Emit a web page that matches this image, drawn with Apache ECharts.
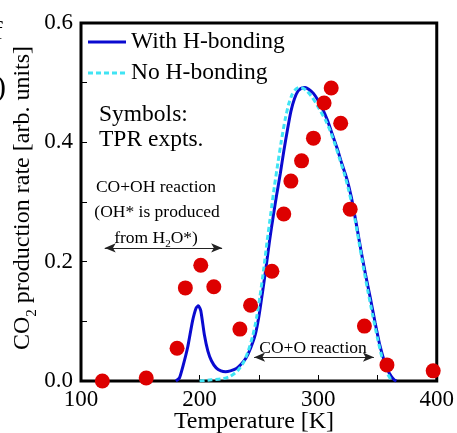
<!DOCTYPE html>
<html>
<head>
<meta charset="utf-8">
<script src="https://cdn.jsdelivr.net/npm/echarts@6/dist/echarts.min.js"></script>
<style>
html,body{margin:0;padding:0;background:#fff;}
#chart{width:457px;height:433px;}
</style>
</head>
<body>
<div id="chart"></div>
<script>
// ---- data ----
const withT    = [180,183,186,190,194,197,199,201,204,207,210,214,218,222,226,231,235,239,243,247,250,253,256,259,262,265,268,271,274,277,280,283,286,289,292,296,300,304,308,312,316,320,324,328,332,336,340,344,348,352,356,360,364,366];
const withRate = [0,0.005,0.025,0.057,0.1,0.122,0.126,0.118,0.078,0.05,0.034,0.022,0.017,0.0155,0.017,0.021,0.028,0.038,0.055,0.078,0.108,0.148,0.19,0.235,0.275,0.312,0.347,0.385,0.42,0.452,0.473,0.486,0.491,0.492,0.489,0.482,0.47,0.455,0.436,0.413,0.39,0.364,0.34,0.308,0.265,0.22,0.178,0.139,0.098,0.06,0.032,0.013,0.002,0];
const noT      = [200,210,220,226,232,237,241,245,248,251,254,257,260,263,266,269,272,275,278,281,284,287,290,294,298,302,306,310,314,318,322,326,330,334,338,342,346,350,354,358,362];
const noRate   = [0,0.002,0.004,0.008,0.017,0.031,0.05,0.077,0.105,0.143,0.186,0.235,0.28,0.325,0.365,0.403,0.437,0.463,0.48,0.489,0.492,0.491,0.487,0.478,0.466,0.452,0.438,0.42,0.398,0.373,0.348,0.318,0.282,0.238,0.192,0.15,0.11,0.072,0.038,0.014,0];
const exptT    = [118,155,181,188,201,212,234,243,261,271,277,286,296,305,311,319,327,339,358,397];
const exptRate = [0.0,0.005,0.055,0.156,0.194,0.158,0.087,0.127,0.184,0.28,0.335,0.369,0.407,0.466,0.491,0.432,0.288,0.092,0.027,0.017];
const xTicks   = [100,200,300,400];
const yTicks   = [0.0,0.2,0.4,0.6];
const ohArrow  = [[120,0.223],[219,0.223]];
const oArrow   = [[246,0.040],[347,0.040]];

const zip = (a,b)=>a.map((v,i)=>[v,b[i]]);
const SERIF = '"Liberation Serif","Times New Roman",serif';
const solidIcon  = 'path://M0,0H38V3H0Z';
const dashedIcon = 'path://M0,0H5V3H0Z M8,0H13V3H8Z M16,0H21V3H16Z M24,0H29V3H24Z M32,0H37V3H32Z M38,0H38.01V3H38Z';

const chart = echarts.init(document.getElementById('chart'));
chart.setOption({
  animation:false,
  backgroundColor:'#fff',
  textStyle:{fontFamily:SERIF},
  grid:{left:81,right:19,top:23,bottom:52,show:true,borderColor:'#000',borderWidth:3,backgroundColor:'transparent'},
  legend:{
    data:[{name:'With H-bonding',icon:solidIcon},{name:'No H-bonding',icon:dashedIcon}],
    orient:'vertical',left:88,top:30,padding:0,itemWidth:38,itemHeight:3,itemGap:7,
    textStyle:{fontFamily:SERIF,fontSize:23.5,color:'#000',lineHeight:23},
    selectedMode:false
  },
  xAxis:{
    type:'value',min:xTicks[0],max:xTicks[xTicks.length-1],interval:100,
    axisLine:{show:false},
    axisTick:{show:true,inside:true,length:6,lineStyle:{color:'#000',width:1}},
    minorTick:{show:true,splitNumber:2,length:6,lineStyle:{color:'#000',width:1}},
    splitLine:{show:false},
    axisLabel:{fontFamily:SERIF,fontSize:23,color:'#000',margin:7}
  },
  yAxis:{
    type:'value',min:yTicks[0],max:yTicks[yTicks.length-1],interval:0.2,
    axisLine:{show:false},
    axisTick:{show:true,inside:true,length:6,lineStyle:{color:'#000',width:1}},
    minorTick:{show:true,splitNumber:2,length:6,lineStyle:{color:'#000',width:1}},
    splitLine:{show:false},
    axisLabel:{fontFamily:SERIF,fontSize:23,color:'#000',margin:8,formatter:v=>v.toFixed(1)}
  },
  series:[
    {name:'With H-bonding',type:'line',data:zip(withT,withRate),symbol:'none',smooth:0.2,
     lineStyle:{color:'#0a0ad0',width:3},itemStyle:{color:'#0a0ad0'},z:2},
    {name:'No H-bonding',type:'line',data:zip(noT,noRate),symbol:'none',smooth:0.2,
     lineStyle:{color:'#40e4f4',width:3,type:[5,3]},itemStyle:{color:'#40e4f4'},z:3},
    {name:'TPR expts.',type:'scatter',data:zip(exptT,exptRate),symbol:'circle',symbolSize:15,
     itemStyle:{color:'#dd0000',opacity:1},z:4,
     markLine:{silent:true,symbol:['arrow','arrow'],symbolSize:[7,11],
       lineStyle:{color:'#222',width:1.2,type:'solid'},label:{show:false},emphasis:{disabled:true},
       data:[[{coord:ohArrow[0]},{coord:ohArrow[1]}],[{coord:oArrow[0]},{coord:oArrow[1]}]]}}
  ],
  graphic:[
    {type:'text',x:99,y:115,style:{text:'Symbols:',font:'23.5px '+SERIF,fill:'#000',textVerticalAlign:'middle'}},
    {type:'text',x:99,y:140,style:{text:'TPR expts.',font:'23.5px '+SERIF,fill:'#000',textVerticalAlign:'middle'}},
    {type:'text',x:156,y:187,style:{text:'CO+OH reaction',font:'17.5px '+SERIF,fill:'#000',textAlign:'center',textVerticalAlign:'middle'}},
    {type:'text',x:157,y:212,style:{text:'(OH* is produced',font:'17.5px '+SERIF,fill:'#000',textAlign:'center',textVerticalAlign:'middle'}},
    {type:'text',x:156,y:238,style:{text:'{a|from H}{s|2}{a|O*)}',textAlign:'center',textVerticalAlign:'middle',
      rich:{a:{fontFamily:SERIF,fontSize:17.5,color:'#000',lineHeight:24,verticalAlign:'middle'},
            s:{fontFamily:SERIF,fontSize:11,color:'#000',lineHeight:24,verticalAlign:'bottom'}}}},
    {type:'text',x:313,y:348,style:{text:'CO+O reaction',font:'17.5px '+SERIF,fill:'#000',textAlign:'center',textVerticalAlign:'middle'}},
    {type:'text',x:254,y:422,style:{text:'Temperature [K]',font:'24px '+SERIF,fill:'#000',textAlign:'center',textVerticalAlign:'middle'}},
    {type:'text',x:23,y:198,rotation:Math.PI/2,style:{text:'{a|CO}{s|2}{a| production rate [arb. units]}',textAlign:'center',textVerticalAlign:'middle',
      rich:{a:{fontFamily:SERIF,fontSize:24,color:'#000',lineHeight:34,verticalAlign:'middle'},
            s:{fontFamily:SERIF,fontSize:15,color:'#000',lineHeight:34,verticalAlign:'bottom'}}}},
    {type:'text',x:-4,y:88,style:{text:')',font:'30px '+SERIF,fill:'#000',textVerticalAlign:'middle'}},
    {type:'text',x:-6,y:32,style:{text:'f',font:'26px '+SERIF,fill:'#000',textVerticalAlign:'middle'}}
  ]
});
</script>
</body>
</html>
